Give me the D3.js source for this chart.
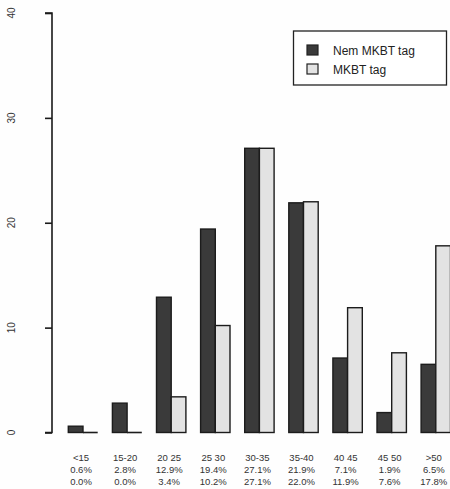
<!DOCTYPE html>
<html><head><meta charset="utf-8">
<script src="https://cdn.jsdelivr.net/npm/d3@7"></script>
<style>body{margin:0;background:#fff}svg{display:block}</style>
</head><body><div id="chart"></div>
<script>
const categories = ["<15","15-20","20 25","25 30","30-35","35-40","40 45","45 50",">50"];
const series = ["Nem MKBT tag","MKBT tag"];
const nemValues = [0.6, 2.8, 12.9, 19.4, 27.1, 21.9, 7.1, 1.9, 6.5];
const mkbtValues = [0.0, 0.0, 3.4, 10.2, 27.1, 22.0, 11.9, 7.6, 17.8];
const nemLabels = ["0.6%","2.8%","12.9%","19.4%","27.1%","21.9%","7.1%","1.9%","6.5%"];
const mkbtLabels = ["0.0%","0.0%","3.4%","10.2%","27.1%","22.0%","11.9%","7.6%","17.8%"];
const yTicks = [0,10,20,30,40];
const colors = ["#3a3a3a","#e3e3e3"];

const W=450,H=489;
const svg=d3.select("#chart").append("svg").attr("width",W).attr("height",H);
svg.append("rect").attr("width",W).attr("height",H).attr("fill","#fefefe");

const y=d3.scaleLinear().domain([0,40]).range([432.5,13]);
const x0=d3.scaleBand().domain(categories).range([68.3-14.7,68.3-14.7+27*14.7]).paddingInner(1/3).paddingOuter(1/6).align(1);
const xs=d3.scaleBand().domain(series).range([0,x0.bandwidth()]);

const data=categories.map((c,i)=>({c,vals:[nemValues[i],mkbtValues[i]]}));
const g=svg.append("g");
data.forEach(d=>{
  series.forEach((s,j)=>{
    const v=d.vals[j];
    const bx=x0(d.c)+xs(s);
    if(v>0){
      g.append("rect")
        .attr("x",bx).attr("y",y(v))
        .attr("width",xs.bandwidth()).attr("height",y(0)-y(v))
        .attr("fill",colors[j])
        .attr("stroke","#1c1c1c").attr("stroke-width",1.4);
    } else {
      g.append("line").attr("x1",bx).attr("x2",bx+xs.bandwidth())
        .attr("y1",y(0)).attr("y2",y(0))
        .attr("stroke","#1c1c1c").attr("stroke-width",1.6);
    }
  });
});

// y axis
const ax=svg.append("g").attr("transform","translate(52,0)")
  .call(d3.axisLeft(y).tickValues(yTicks).tickSize(7).tickFormat(""));
ax.select(".domain").attr("stroke","#1a1a1a").attr("stroke-width",1.6).attr("d",`M-7,${y(40)}H0V${y(0)}H-7`);
ax.selectAll(".tick line").attr("stroke","#1a1a1a").attr("stroke-width",1.6);
yTicks.forEach(t=>{
  svg.append("text").attr("transform",`translate(15,${y(t)}) rotate(-90)`)
    .attr("text-anchor","middle").attr("font-family","Liberation Sans, Arial, sans-serif")
    .attr("font-size",10).attr("fill","#333").text(t);
});

// category labels
const lab=svg.append("g").attr("font-family","Liberation Sans, Arial, sans-serif").attr("font-size",9.5).attr("fill","#333").attr("text-anchor","middle");
categories.forEach((c,i)=>{
  const cx=x0(c)+x0.bandwidth()/2-2;
  lab.append("text").attr("x",cx).attr("y",461).text(c);
  lab.append("text").attr("x",cx).attr("y",473).text(nemLabels[i]);
  lab.append("text").attr("x",cx).attr("y",485).text(mkbtLabels[i]);
});

// legend
const lg=svg.append("g");
lg.append("rect").attr("x",293.5).attr("y",31).attr("width",153).attr("height",54).attr("fill","#fff").attr("stroke","#222").attr("stroke-width",1.3);
series.forEach((s,j)=>{
  lg.append("rect").attr("x",307).attr("y",45+j*19).attr("width",11).attr("height",10).attr("fill",colors[j]).attr("stroke","#222").attr("stroke-width",1.2);
  lg.append("text").attr("x",333).attr("y",54.5+j*19).attr("font-family","Liberation Sans, Arial, sans-serif").attr("font-size",12).attr("fill","#222").text(s);
});
</script></body></html>
